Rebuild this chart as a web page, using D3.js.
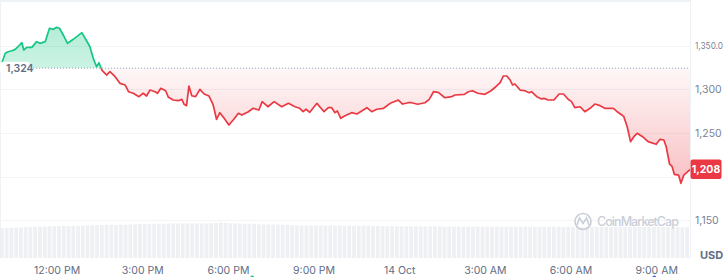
<!DOCTYPE html>
<html>
<head>
<meta charset="utf-8">
<script src="https://cdn.jsdelivr.net/npm/d3@7"></script>
<style>
body { margin: 0; background: #fff; }
svg { display: block; font-family: Inter, "Noto Sans", sans-serif; }
</style>
</head>
<body>
<div id="chart"></div>
<script>
// price trace, minutes after 13 Oct 10:00
var minutes = [0,11,17,25,32,38,46,50,56,67,77,84,95,104,112,119,125,133,142,154,172,181,189,196,203,208,214,224,231,242,252,263,270,280,
  292,301,308,315,326,331,338,348,354,364,375,382,387,392,397,403,411,420,429,439,448,455,462,471,481,490,501,508,522,532,544,551,563,
  576,592,606,620,630,637,643,651,666,681,690,697,704,709,716,725,739,750,771,781,792,806,820,837,846,858,
  865,878,893,902,911,921,935,949,956,976,984,993,1004,1019,1032,1042,1051,1058,1065,1072,1077,1082,1093,1103,1112,1117,1128,1138,
  1143,1152,1164,1175,1184,1194,1201,1208,1219,1229,1240,1250,1261,1271,1289,1297,1307,1311,1318,1325,1332,1339,1352,1362,1379,1387,1395,1400,1407,1412,1417,1426,1431,1437,1450];
var prices = [1324,1341.1,1342.9,1344.0,1345.6,1348.6,1353.2,1344.8,1347.9,1347.9,1354.4,1352.5,1354.4,1369.7,1368.5,1370.8,1369.7,1362.0,1352.5,1357.1,1364.7,1356.3,1348.6,1335.3,1325.7,1330.3,1321.9,1316.2,1320.0,1314.3,1306.7,1304.8,1297.1,1295.3,
  1291.4,1295.3,1292.2,1299.0,1297.1,1295.3,1301.0,1298.2,1290.7,1287.6,1286.8,1288.4,1282.7,1281.1,1303.6,1292.5,1291.4,1299.8,1294.5,1292.2,1281.9,1265.5,1273.1,1266.6,1259.0,1264.7,1272.4,1270.4,1274.2,1278.1,1276.1,1285.7,1279.9,
  1285.7,1279.9,1283.8,1279.9,1278.1,1274.2,1277.0,1273.5,1283.8,1274.2,1278.8,1278.8,1273.1,1275.0,1266.6,1269.6,1273.1,1271.6,1278.8,1274.2,1277.0,1278.1,1283.8,1287.6,1283.0,1284.5,
  1284.5,1282.7,1284.5,1288.4,1297.1,1296.4,1290.2,1291.4,1293.3,1294.1,1297.1,1298.2,1295.3,1294.1,1298.2,1302.8,1307.4,1315.1,1315.1,1310.5,1304.8,1305.9,1299.0,1298.2,1296.0,1297.1,1291.4,1288.7,
  1289.5,1287.6,1287.6,1294.5,1294.5,1288.4,1285.7,1278.8,1279.9,1274.2,1278.1,1283.0,1281.1,1278.1,1278.1,1274.2,1270.4,1268.5,1257.0,1239.9,1245.6,1249.5,1244.9,1239.9,1236.9,1242.6,1241.8,1234.1,1214.3,1212.0,1202.5,1201.7,1192.2,1201.7,1208];

// 10 minute volume bars (relative)
var volumes = [30,30,30.2,30.4,30.6,30.8,31,31.2,31.4,31.5,31.6,31.8,
  32,32.1,32,32.2,32.3,32.4,32.5,32.8,33,33,33.1,33.2,33,33.3,33.4,33.5,
  33.8,34,34,34.1,34,34.2,34.3,34.5,34.5,34.6,34.4,34.5,34.7,34.6,34.5,34.6,34.7,
  35,35.5,35,34.6,34.5,34.4,34.3,34.4,34.2,33.8,33.6,33.5,33.4,33.5,33.3,33.2,
  32.8,32.7,32.6,32.6,32.5,32.6,32.5,32.4,32.5,32.4,32.5,32.3,32.4,32.3,32.2,32.3,32.2,32.1,32.0,
  31.8,31.7,31.7,31.6,31.6,31.7,31.6,31.5,31.6,31.5,31.5,31.6,31.5,31.4,31.5,31.5,31.4,31.5,31.4,31.4,
  31.5,31.4,31.4,31.3,31.4,31.4,31.3,31.4,31.3,31.3,31.3,31.2,31.3,31.2,31.2,31.3,31.2,31.2,
  31.1,31.2,31.1,31.1,31.0,31.1,31.1,31.0,31.1,31.0,31.0,31.1,31.0,31.0,31.1,31.0,31.0,31.0,31.1,31.0,
  31.0,31.0,31.1,31.0,31.0,30.8,31];

var openPrice = 1324;
var lastPrice = 1208;
var yTicks = [1150, 1200, 1250, 1300, 1350];
var yTickLabels = ['1,150', '1,200', '1,250', '1,300', '1,350.0'];
var xTickTimes = ['2022-10-13T12:00', '2022-10-13T15:00', '2022-10-13T18:00', '2022-10-13T21:00',
  '2022-10-14T00:00', '2022-10-14T03:00', '2022-10-14T06:00', '2022-10-14T09:00'];
var xTickLabels = ['12:00 PM', '3:00 PM', '6:00 PM', '9:00 PM', '14 Oct', '3:00 AM', '6:00 AM', '9:00 AM'];

var W = 728, H = 277, plotR = 690, volBottom = 258;
var start = new Date('2022-10-13T10:00');
var data = minutes.map(function(m, i) { return {t: d3.timeMinute.offset(start, m), p: prices[i]}; });

var x = d3.scaleTime().domain([start, d3.timeMinute.offset(start, 1450)]).range([0, plotR]);
var y = d3.scaleLinear().domain([1150, 1350]).range([220.2, 45.5]);
var yv = d3.scaleLinear().domain([0, 36]).range([volBottom, 222]);
var base = y(openPrice);

var svg = d3.select('#chart').append('svg').attr('width', W).attr('height', H);
var defs = svg.append('defs');

var gG = defs.append('linearGradient').attr('id', 'gG').attr('gradientUnits', 'userSpaceOnUse')
  .attr('x1', 0).attr('x2', 0).attr('y1', y(1372)).attr('y2', base);
gG.append('stop').attr('offset', 0).attr('stop-color', '#16c784').attr('stop-opacity', 0.32);
gG.append('stop').attr('offset', 1).attr('stop-color', '#16c784').attr('stop-opacity', 0.22);
var gR = defs.append('linearGradient').attr('id', 'gR').attr('gradientUnits', 'userSpaceOnUse')
  .attr('x1', 0).attr('x2', 0).attr('y1', base).attr('y2', y(1190));
gR.append('stop').attr('offset', 0).attr('stop-color', '#ea3943').attr('stop-opacity', 0.04);
gR.append('stop').attr('offset', 1).attr('stop-color', '#ea3943').attr('stop-opacity', 0.32);

defs.append('clipPath').attr('id', 'cUp').append('rect').attr('x', 0).attr('y', 0).attr('width', plotR).attr('height', base);
defs.append('clipPath').attr('id', 'cDn').append('rect').attr('x', 0).attr('y', base).attr('width', plotR).attr('height', volBottom - base);

// frame + grid
svg.append('line').attr('x1', 0).attr('x2', plotR).attr('y1', 1).attr('y2', 1).attr('stroke', '#eff2f5').attr('stroke-width', 2);
svg.append('line').attr('x1', 0.5).attr('x2', 0.5).attr('y1', 0).attr('y2', volBottom).attr('stroke', '#eff2f5');
svg.append('line').attr('x1', plotR + 0.5).attr('x2', plotR + 0.5).attr('y1', 0).attr('y2', volBottom).attr('stroke', '#eff2f5');
svg.selectAll('.grid').data(yTicks).enter().append('line')
  .attr('x1', 0).attr('x2', plotR)
  .attr('y1', function(d) { return Math.round(y(d)) + 0.5; })
  .attr('y2', function(d) { return Math.round(y(d)) + 0.5; })
  .attr('stroke', '#f3f4f6');

// volume
var bw = x(d3.timeMinute.offset(start, 10)) - x(start);
svg.selectAll('.vol').data(volumes).enter().append('rect')
  .attr('x', function(d, i) { return x(d3.timeMinute.offset(start, i * 10)); })
  .attr('y', function(d) { return yv(d); })
  .attr('width', bw - 1)
  .attr('height', function(d) { return volBottom - yv(d); })
  .attr('fill', '#eef0f3');

// watermark
var wm = svg.append('g').attr('fill', 'none').attr('stroke', '#c9ced8').attr('stroke-width', 1.6);
wm.append('circle').attr('cx', 583).attr('cy', 221.5).attr('r', 8);
wm.append('path').attr('d', 'M577,225 L579.5,218 L583,223.5 L586.5,218 L589,225');
svg.append('text').attr('x', 597).attr('y', 226).attr('font-size', 12.5).attr('fill', '#c9ced8')
  .attr('font-weight', 500).attr('textLength', 82).text('CoinMarketCap');

// area + line
var area = d3.area().x(function(d) { return x(d.t); }).y0(base).y1(function(d) { return y(d.p); });
var line = d3.line().x(function(d) { return x(d.t); }).y(function(d) { return y(d.p); });

svg.append('path').datum(data).attr('d', area).attr('fill', 'url(#gG)').attr('clip-path', 'url(#cUp)');
svg.append('path').datum(data).attr('d', area).attr('fill', 'url(#gR)').attr('clip-path', 'url(#cDn)');

svg.append('line').attr('x1', 30).attr('x2', plotR).attr('y1', base).attr('y2', base)
  .attr('stroke', '#a1a7bb').attr('stroke-dasharray', '1,2');

svg.append('path').datum(data).attr('d', line).attr('fill', 'none').attr('stroke', '#16c784')
  .attr('stroke-width', 1.7).attr('stroke-linejoin', 'round').attr('clip-path', 'url(#cUp)');
svg.append('path').datum(data).attr('d', line).attr('fill', 'none').attr('stroke', '#ea3943')
  .attr('stroke-width', 1.7).attr('stroke-linejoin', 'round').attr('clip-path', 'url(#cDn)');

// open price tag
svg.append('rect').attr('x', 0).attr('y', base - 6.5).attr('width', 30).attr('height', 12).attr('rx', 3).attr('fill', '#fff');
svg.append('text').attr('x', 6).attr('y', base).attr('dy', '0.35em').attr('font-size', 10.5)
  .attr('font-weight', 600).attr('fill', '#616e85').text(d3.format(',')(openPrice));

// y labels (1,200 sits under the last price tag, as in the source)
svg.selectAll('.ylab').data(yTicks.filter(function(d) { return Math.abs(y(d) - y(lastPrice)) > 12; })).enter().append('text')
  .attr('x', 695).attr('y', function(d) { return y(d); }).attr('dy', '0.35em')
  .attr('font-size', function(d) { return d === 1350 ? 9.5 : 10.5; }).attr('fill', '#7a8396')
  .attr('textLength', function(d) { return d === 1350 ? 28 : null; })
  .attr('lengthAdjust', 'spacingAndGlyphs')
  .text(function(d) { return yTickLabels[yTicks.indexOf(d)]; });
svg.append('text').attr('x', 700).attr('y', 255).attr('dy', '0.35em').attr('font-size', 11)
  .attr('font-weight', 700).attr('fill', '#616e85').text('USD');

// last price tag
svg.append('rect').attr('x', plotR + 0.5).attr('y', y(lastPrice) - 10).attr('width', 31).attr('height', 19.5)
  .attr('rx', 2).attr('fill', '#ea3943');
svg.append('text').attr('x', plotR + 16).attr('y', y(lastPrice)).attr('dy', '0.35em').attr('text-anchor', 'middle')
  .attr('font-size', 10.5).attr('font-weight', 700).attr('fill', '#fff').text(d3.format(',')(lastPrice));

// x labels
svg.selectAll('.xlab').data(xTickTimes).enter().append('text')
  .attr('x', function(d) { return x(new Date(d)); }).attr('y', 270).attr('dy', '0.35em')
  .attr('text-anchor', 'middle').attr('font-size', 10.5).attr('fill', '#616e85')
  .text(function(d, i) { return xTickLabels[i]; });

// event markers
svg.append('circle').attr('cx', x(new Date('2022-10-13T18:50'))).attr('cy', 277.5).attr('r', 2).attr('fill', '#16c784');
svg.append('circle').attr('cx', x(new Date('2022-10-14T08:55'))).attr('cy', 277.5).attr('r', 2).attr('fill', '#3861fb');
</script>
</body>
</html>
